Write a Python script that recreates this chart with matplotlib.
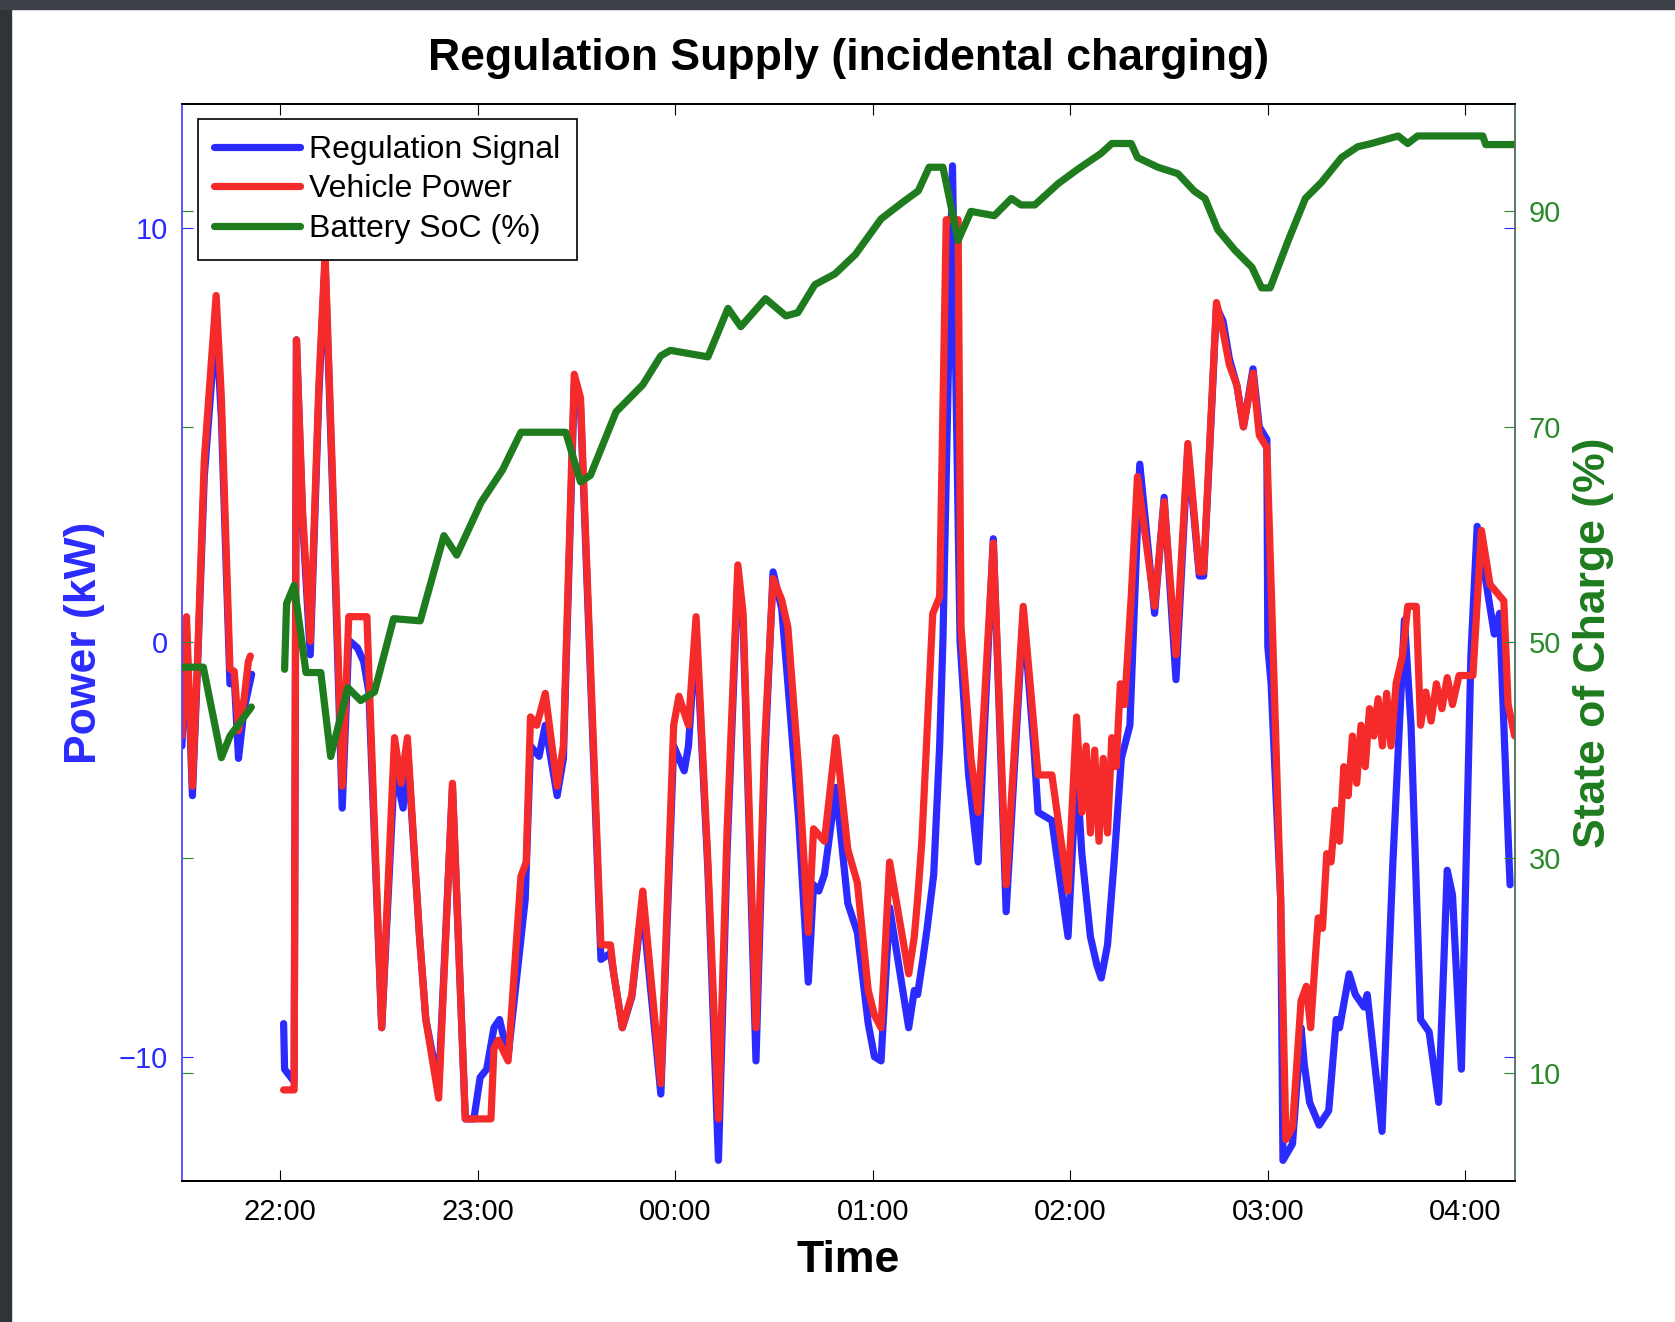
import matplotlib
matplotlib.use("Agg")
import matplotlib.pyplot as plt
import numpy as np
from matplotlib.patches import Rectangle

plt.rcParams['font.family'] = ['Liberation Sans', 'DejaVu Sans']

nan = np.nan

# minutes after 21:00, power in kW
veh_min = [30.1, 31.5, 33.3, 34.9, 36.9, 40.5, 42.1, 44.7, 46.0, 47.3, 49.0, 50.3, 50.9, nan,
           61.0, 64.2, 64.9, 66.8, 69.1, 71.7, 73.6, 75.9, 78.8, 80.8, 86.3, 90.8, 94.7, 96.7,
           98.6, 102.2, 104.2, 108.1, 112.3, 116.2, 124.0, 124.9, 126.2, 129.2, 133.1, 134.7,
           136.0, 137.9, 140.5, 144.1, 146.0, 149.3, 151.2, 157.4, 160.3, 161.3, 163.9, 166.8,
           170.1, 170.7, 175.6, 179.5, 181.1, 182.7, 184.0, 186.3, 189.9, 193.1, 195.7, 199.0,
           200.6, 204.5, 207.1, 209.7, 212.3, 214.2, 217.5, 220.4, 222.0, 225.3, 228.8, 232.4,
           235.3, 238.6, 240.5, 242.5, 245.1, 250.9, 252.6, 253.6, 254.9, 258.2, 260.3, 262.3,
           265.9, 266.8, 269.8, 272.0, 276.6, 280.5, 285.7, 288.9, 290.2, 294.4, 299.3, 301.9,
           303.5, 304.8, 306.1, 307.4, 308.7, 310.0, 311.3, 312.6, 313.9, 315.2, 316.5, 318.5,
           320.4, 325.6, 328.5, 332.1, 335.7, 339.2, 340.5, 344.4, 346.4, 348.3, 350.6, 352.6,
           355.5, 357.4, 359.7, 361.0, 363.9, 365.5, 367.5, 370.1, 371.7, 373.0, 374.4, 375.3,
           376.6, 377.9, 379.2, 380.5, 381.8, 383.1, 384.4, 385.7, 387.0, 388.3, 389.6, 390.9,
           392.2, 393.5, 394.8, 396.1, 397.4, 399.0, 400.9, 402.5, 405.1, 406.4, 408.0, 409.6,
           411.2, 412.9, 414.5, 416.1, 418.1, 420.4, 422.3, 424.9, 427.5, 431.7, 433.0, 435.0]
veh_kw = [-2.26, 0.62, -3.47, -0.31, 4.4, 8.37, 5.9, -0.64, -0.7, -2.13, -1.36, -0.46, -0.33, nan,
          -10.8, -10.8, 7.3, 3.1, 0.03, 6.2, 9.37, 3.9, -3.47, 0.62, 0.62, -9.3, -2.3, -3.4,
          -2.3, -7.0, -9.1, -11.0, -3.4, -11.5, -11.5, -9.8, -9.6, -10.1, -5.65, -5.3,
          -1.8, -2.0, -1.23, -3.47, -2.5, 6.47, 5.9, -7.3, -7.3, -8.0, -9.3, -8.5,
          -6.0, -6.5, -10.65, -2.0, -1.3, -1.7, -2.0, 0.62, -5.3, -11.5, -4.6, 1.87,
          0.69, -9.3, -2.5, 1.54, 1.03, 0.36, -3.1, -7.0, -4.5, -4.8, -2.3, -5.0,
          -5.8, -8.4, -9.0, -9.3, -5.3, -8.0, -7.1, -6.2, -4.8, 0.69, 1.1, 10.2,
          10.2, 0.36, -2.8, -4.1, 2.4, -5.85, 0.87, -2.0, -3.2, -3.2, -6.0, -1.8,
          -4.1, -2.5, -4.6, -2.6, -4.8, -2.8, -4.6, -2.3, -3.0, -1.0, -1.5, 1.1,
          4.0, 0.87, 3.4, -0.3, 4.8, 1.7, 1.7, 8.2, 7.5, 6.7, 6.2, 5.2,
          6.5, 5.0, 4.7, 1.4, -6.2, -12.0, -11.7, -8.65, -8.3, -9.3, -7.65, -6.65,
          -6.9, -5.1, -5.3, -4.05, -4.8, -3.0, -3.7, -2.26, -3.4, -2.0, -3.0, -1.6,
          -2.26, -1.36, -2.5, -1.23, -2.5, -0.98, -0.33, 0.87, 0.87, -2.0, -1.2, -1.9,
          -1.0, -1.6, -0.85, -1.5, -0.8, -0.8, -0.8, 2.7, 1.4, 1.0, -1.5, -2.26]

reg_min = [30.1, 31.5, 33.3, 34.9, 36.9, 40.5, 42.1, 44.7, 46.0, 47.3, 49.0, 51.3, nan,
           61.0, 61.3, 64.2, 64.9, 66.8, 69.1, 71.7, 73.6, 75.9, 78.8, 80.8, 83.4, 85.3, 86.9,
           90.8, 94.7, 97.3, 98.6, 102.2, 104.2, 108.1, 112.3, 116.2, 118.8, 120.7, 122.7,
           124.9, 126.6, 129.2, 134.4, 136.0, 138.6, 140.5, 144.1, 146.0, 149.3, 151.2, 157.4,
           160.3, 161.3, 163.9, 166.8, 170.1, 170.7, 175.6, 179.5, 182.7, 184.0, 186.3, 189.9,
           193.1, 195.7, 199.0, 200.6, 204.5, 207.1, 209.7, 212.3, 214.2, 217.5, 220.4, 222.0,
           223.6, 225.3, 228.8, 232.4, 235.3, 238.6, 240.5, 242.5, 245.1, 250.9, 252.6, 253.6,
           255.2, 256.5, 258.5, 260.3, 261.3, 264.2, 266.5, 269.1, 272.0, 276.6, 280.5, 285.7,
           288.9, 290.2, 294.4, 299.3, 301.9, 303.5, 306.1, 308.1, 309.4, 311.3, 313.3, 315.5,
           318.1, 321.1, 325.6, 328.5, 332.1, 335.7, 339.2, 340.5, 344.4, 346.4, 348.3, 350.6,
           352.6, 355.5, 357.4, 359.7, 360.0, 361.0, 363.9, 364.6, 367.5, 370.1, 371.1, 372.7,
           375.6, 378.5, 380.8, 381.8, 384.7, 386.6, 389.2, 390.2, 394.7, 398.0, 401.5, 403.5,
           406.4, 409.0, 411.9, 414.5, 416.1, 418.8, 421.7, 423.6, 426.2, 428.8, 430.4, 433.3,
           433.6]
reg_kw = [-2.5, 0.3, -3.7, -0.46, 4.0, 7.75, 5.4, -1.0, -0.85, -2.8, -1.6, -0.77, nan,
          -9.2, -10.3, -10.6, 7.3, 2.9, -0.3, 5.96, 9.2, 3.6, -4.0, 0.05, -0.13, -0.46, -1.2,
          -9.3, -3.0, -4.0, -2.5, -7.0, -9.1, -10.7, -3.5, -11.5, -11.5, -10.5, -10.3,
          -9.3, -9.1, -10.0, -6.2, -2.5, -2.75, -2.0, -3.7, -2.8, 6.2, 5.7, -7.65,
          -7.5, -8.0, -9.3, -8.55, -6.2, -6.9, -10.9, -2.5, -3.1, -2.5, 0.3, -5.5,
          -12.5, -5.1, 1.6, 0.44, -10.1, -3.0, 1.7, 0.82, -1.0, -4.3, -8.2, -5.85,
          -6.0, -5.6, -3.5, -6.3, -7.0, -9.2, -10.0, -10.1, -6.4, -9.3, -8.4, -8.5,
          -7.65, -6.9, -5.6, -2.5, 0.05, 11.5, 0.03, -3.2, -5.3, 2.5, -6.5, 0.7,
          -2.5, -4.1, -4.3, -7.1, -3.0, -5.1, -7.1, -7.8, -8.1, -7.3, -5.3, -2.8,
          -2.0, 4.3, 0.7, 3.5, -0.9, 4.67, 1.6, 1.6, 8.1, 7.75, 6.85, 6.2,
          5.2, 6.6, 5.2, 4.9, -0.1, -1.0, -6.2, -12.5, -12.1, -9.3, -10.2, -11.1,
          -11.65, -11.3, -9.1, -9.3, -8.0, -8.5, -8.8, -8.5, -11.8, -5.3, 0.54, -2.0,
          -9.1, -9.4, -11.1, -5.5, -6.1, -10.3, -0.3, 2.8, 1.5, 0.2, 0.7, -5.3,
          -5.85]

# minutes after 21:00, state of charge in %
soc_min = [30.1, 36.6, 42.1, 44.7, 51.2, nan,
           61.3, 61.9, 64.2, 67.8, 72.3, 75.3, 80.5, 84.4, 88.6, 94.4, 102.5, 109.7, 113.6,
           121.0, 127.5, 133.1, 146.7, 151.2, 154.2, 162.0, 170.1, 175.6, 178.5, 189.9, 196.0,
           199.9, 207.4, 213.6, 217.2, 222.4, 228.5, 234.7, 242.5, 249.3, 253.8, 257.1, 261.3,
           265.9, 269.8, 276.9, 282.1, 285.0, 289.2, 296.4, 302.2, 309.4, 312.6, 318.5, 320.4,
           326.6, 332.7, 337.6, 340.9, 344.8, 350.0, 355.2, 358.1, 360.7, 366.2, 371.4, 376.3,
           382.4, 387.3, 391.5, 399.6, 402.5, 405.5, 425.3, 426.2, 435.3]
soc_pct = [47.7, 47.7, 39.3, 41.3, 44.0, nan,
           47.5, 53.6, 55.3, 47.2, 47.2, 39.4, 45.8, 44.6, 45.4, 52.2, 52.0, 59.9, 58.1,
           63.0, 66.0, 69.5, 69.5, 64.9, 65.5, 71.4, 73.9, 76.6, 77.1, 76.5, 81.0,
           79.3, 81.9, 80.3, 80.6, 83.2, 84.2, 86.0, 89.3, 90.9, 91.9, 94.1, 94.1,
           87.3, 90.0, 89.6, 91.2, 90.6, 90.6, 92.6, 93.9, 95.4, 96.3, 96.3, 95.0,
           94.1, 93.5, 91.9, 91.2, 88.3, 86.4, 84.8, 82.9, 82.9, 87.3, 91.2, 92.7,
           95.0, 96.0, 96.3, 97.0, 96.3, 97.0, 97.0, 96.2, 96.2]

tick_hours = [22, 23, 24, 25, 26, 27, 28]
tick_labels = ['22:00', '23:00', '00:00', '01:00', '02:00', '03:00', '04:00']

BLUE = '#2b2bff'
RED = '#f52a2a'
GREEN = '#1e7b1e'

fig = plt.figure(figsize=(16.75, 13.22), dpi=100)
fig.patches.append(Rectangle((0, 0), 0.0065, 1, transform=fig.transFigure,
                             color='#2f3438', zorder=-5))
fig.patches.append(Rectangle((0, 0.9935), 1, 0.0065, transform=fig.transFigure,
                             color='#3b4146', zorder=-5))

ax1 = fig.add_axes([0.1084, 0.1066, 0.7959, 0.815])
ax2 = ax1.twinx()

t_reg = 21 + np.array(reg_min) / 60
t_veh = 21 + np.array(veh_min) / 60
t_soc = 21 + np.array(soc_min) / 60

line_kw = dict(lw=5.2, solid_joinstyle='round', solid_capstyle='round')
l1, = ax1.plot(t_reg, reg_kw, color=BLUE, label='Regulation Signal', **line_kw)
l2, = ax1.plot(t_veh, veh_kw, color=RED, label='Vehicle Power', **line_kw)
l3, = ax2.plot(t_soc, soc_pct, color=GREEN, label='Battery SoC (%)', **line_kw)

ax1.set_xlim(21.5, 28.25)
ax1.set_ylim(-13, 13)
ax2.set_ylim(0, 100)
ax1.set_xticks(tick_hours)
ax1.set_xticklabels(tick_labels)
ax1.set_yticks([-10, 0, 10])
ax2.set_yticks([10, 30, 50, 70, 90])

ax1.tick_params(axis='x', direction='in', length=8, top=True, labelsize=21, pad=12,
                colors='black')
ax1.tick_params(axis='y', direction='in', length=8, right=True, labelsize=21, pad=10,
                colors=BLUE)
ax2.tick_params(axis='y', direction='in', length=8, left=True, labelsize=21, pad=10,
                colors='#2a8a2a')

ax1.spines['right'].set_visible(False)
ax2.spines['left'].set_visible(False)
ax1.spines['left'].set_color('#4a4aff')
ax2.spines['right'].set_color('#4f6f5a')
ax2.spines['top'].set_color('black')
ax2.spines['bottom'].set_color('black')
for s in ['left', 'right', 'top', 'bottom']:
    ax1.spines[s].set_linewidth(1.3)
    ax2.spines[s].set_linewidth(1.3)

ax1.set_xlabel('Time', fontsize=32, fontweight='bold', labelpad=10)
ax1.set_ylabel('Power (kW)', fontsize=32, fontweight='bold', color=BLUE, labelpad=10)
ax2.set_ylabel('State of Charge (%)', fontsize=32, fontweight='bold', color=GREEN,
               labelpad=9)
ax1.set_title('Regulation Supply (incidental charging)', fontsize=32, fontweight='bold',
              pad=24)

leg = ax2.legend(handles=[l1, l2, l3], loc='upper left', bbox_to_anchor=(0.012, 0.986),
                 borderaxespad=0, fontsize=23, handlelength=2.7, handletextpad=0.3,
                 labelspacing=0.3, borderpad=0.5, fancybox=False, framealpha=1,
                 edgecolor='black')
leg.get_frame().set_linewidth(1.2)

fig.savefig('out.png', dpi=100, facecolor='white')
